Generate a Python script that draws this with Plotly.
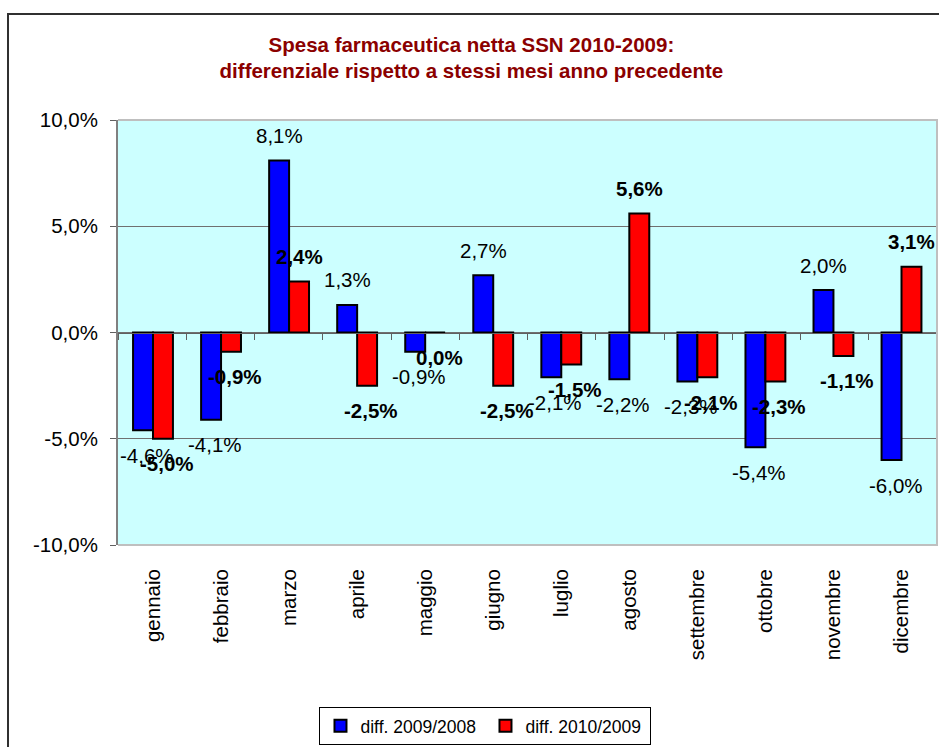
import plotly.graph_objects as go

mesi = ["gennaio", "febbraio", "marzo", "aprile", "maggio", "giugno",
        "luglio", "agosto", "settembre", "ottobre", "novembre", "dicembre"]
diff_2009_2008 = [-4.6, -4.1, 8.1, 1.3, -0.9, 2.7, -2.1, -2.2, -2.3, -5.4, 2.0, -6.0]
diff_2010_2009 = [-5.0, -0.9, 2.4, -2.5, 0.0, -2.5, -1.5, 5.6, -2.1, -2.3, -1.1, 3.1]
nomi = ["diff. 2009/2008", "diff. 2010/2009"]
y_ticks = [-10, -5, 0, 5, 10]

FONT = "Arial, Liberation Sans, sans-serif"
FS = 20.5


def pct(v):
    return ("%.1f%%" % v).replace(".", ",")


fig = go.Figure()
fig.add_trace(go.Bar(x=mesi, y=diff_2009_2008, name=nomi[0],
                     marker=dict(color="#0000FF", line=dict(color="black", width=2))))
fig.add_trace(go.Bar(x=mesi, y=diff_2010_2009, name=nomi[1],
                     marker=dict(color="#FF0000", line=dict(color="black", width=2))))
# empty trace so the zero-line axis with boundary ticks is drawn
fig.add_trace(go.Scatter(x=[], y=[], xaxis="x2", showlegend=False, hoverinfo="skip"))

# data labels (blue normal, red bold), placed off the bar end like excel
annots = []
for vals, dx, bold in [(diff_2009_2008, -10, False), (diff_2010_2009, 10, True)]:
    for m, v in zip(mesi, vals):
        txt = "<b>%s</b>" % pct(v) if bold else pct(v)
        annots.append(dict(x=m, y=v, text=txt, showarrow=False,
                           xshift=dx + (0 if v > 0 else 4),
                           yshift=25 if v > 0 else -25,
                           font=dict(family=FONT, size=FS, color="black")))

fig.update_layout(
    width=939, height=747,
    margin=dict(l=118, r=2, t=120, b=202),
    paper_bgcolor="white",
    plot_bgcolor="#CCFFFF",
    barmode="group", bargap=0.414, bargroupgap=0,
    separators=",.",
    font=dict(family=FONT, size=FS, color="black"),
    title=dict(text="Spesa farmaceutica netta SSN 2010-2009:<br>"
                    "differenziale rispetto a stessi mesi anno precedente",
               x=0.502, xref="container", xanchor="center",
               y=0.931, yref="container", yanchor="top",
               font=dict(family=FONT, size=20.5, color="#8B0000", weight="bold")),
    xaxis=dict(type="category", categoryarray=mesi, tickangle=-90,
               ticks="", showline=False, showgrid=False, zeroline=False,
               ticklabelstandoff=19, tickfont=dict(size=FS)),
    xaxis2=dict(overlaying="x", anchor="free", position=0.5, range=[0, 12],
                tickvals=list(range(13)), showticklabels=False,
                ticks="outside", ticklen=6, tickcolor="#606060",
                showline=True, linecolor="#606060", linewidth=1,
                showgrid=False, zeroline=False),
    yaxis=dict(range=[-10, 10], tickvals=y_ticks, ticktext=[pct(t) for t in y_ticks],
               showgrid=True, gridcolor="#707070", gridwidth=1, zeroline=False,
               showline=True, linecolor="#808080", linewidth=2,
               ticks="outside", ticklen=6, tickcolor="#606060",
               ticklabelstandoff=8, tickfont=dict(size=FS)),
    legend=dict(orientation="h", x=0.4487, xanchor="center", y=-0.381, yanchor="top",
                bordercolor="black", borderwidth=1, bgcolor="white",
                font=dict(family=FONT, size=17.5), itemwidth=30,
                entrywidth=120, entrywidthmode="pixels",
                traceorder="normal"),
    annotations=annots,
    shapes=[
        # plot area border (top, right, bottom)
        dict(type="path", xref="paper", yref="paper", path="M 0,1 L 1,1 L 1,0 L 0,0",
             line=dict(color="#BFBFBF", width=2), layer="above"),
        # outer chart frame (left and top visible)
        dict(type="path", xref="paper", yref="paper",
             path="M -0.1343,-0.6 L -0.1343,1.2494 L 1.2,1.2494",
             line=dict(color="#303030", width=2)),
    ],
)

# drop the page margin so the 939x747 figure fills the window exactly
fig.write_html("out.html", config={"displayModeBar": False},
               post_script="document.body.style.margin='0';")
